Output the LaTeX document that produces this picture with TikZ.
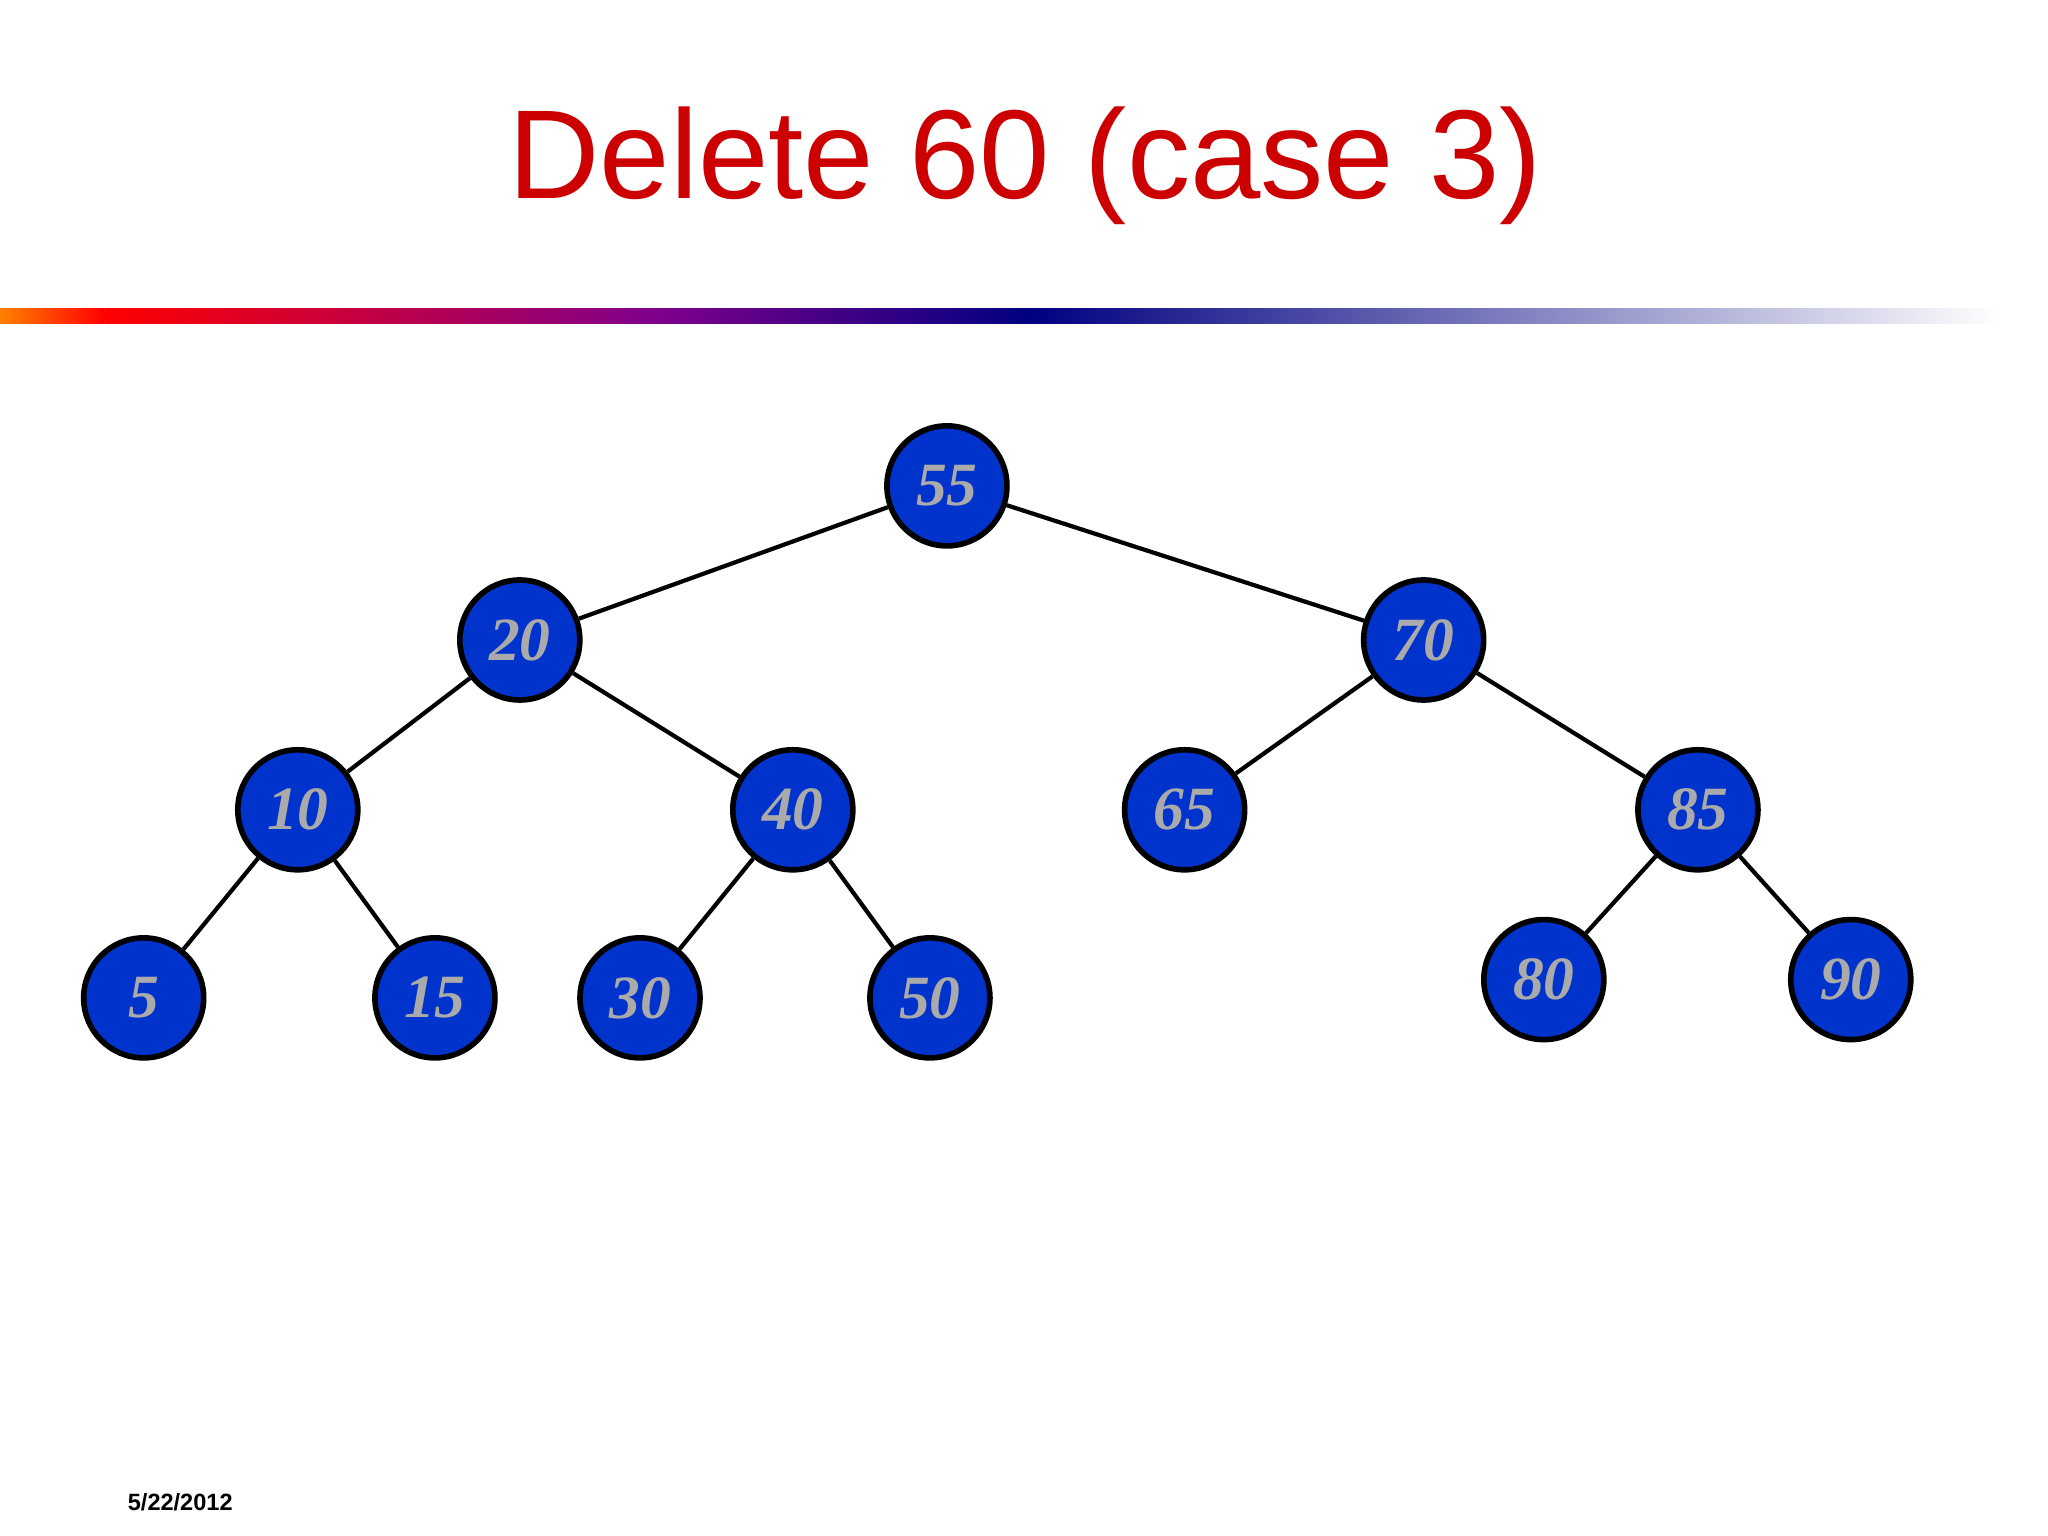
\documentclass[tikz,border=0pt]{standalone}
\usepackage{fontspec}
\setmainfont{Liberation Serif}
\newfontfamily\sansf{Liberation Sans}
\begin{document}
\begin{tikzpicture}[x=0.01306cm,y=-0.01306cm,
  bst/.style={circle,draw=black,line width=1.6pt,fill={rgb,255:red,0;green,51;blue,204},minimum size=1.2cm,inner sep=0pt,
    text={rgb,255:red,170;green,170;blue,170},font=\fontsize{17.5}{20}\selectfont\bfseries\itshape},
  edge/.style={line width=1.2pt,draw=black}]
\useasboundingbox (0,0) rectangle (1568,1176);
\definecolor{tred}{RGB}{204,0,0}
\node[text=tred,font=\sansf\fontsize{36}{40}\selectfont] (title) at (785,127) {Delete 60 (case 3)};
\shade[left color=orange,right color=red] (0,236) rectangle (80,248);
\shade[left color=red,right color={rgb,255:red,128;green,0;blue,140}] (80,236) rectangle (500,248);
\shade[left color={rgb,255:red,128;green,0;blue,140},right color={rgb,255:red,0;green,0;blue,128}] (500,236) rectangle (790,248);
\shade[left color={rgb,255:red,0;green,0;blue,128},right color=white] (790,236) rectangle (1530,248);
\node[font=\sansf\bfseries\fontsize{6.7}{8}\selectfont] (date) at (138,1150) {5/22/2012};
\node[bst] (n55) at (725,372) {55};
\node[bst] (n20) at (398,490) {20};
\node[bst] (n70) at (1090,490) {70};
\node[bst] (n10) at (228,620) {10};
\node[bst] (n40) at (607,620) {40};
\node[bst] (n65) at (907,620) {65};
\node[bst] (n85) at (1300,620) {85};
\node[bst] (n5) at (110,764) {5};
\node[bst] (n15) at (333,764) {15};
\node[bst] (n30) at (490,764) {30};
\node[bst] (n50) at (712,764) {50};
\node[bst] (n80) at (1182,750) {80};
\node[bst] (n90) at (1417,750) {90};
\foreach \a/\b in {n55/n20,n55/n70,n20/n10,n20/n40,n70/n65,n70/n85,n10/n5,n10/n15,n40/n30,n40/n50,n85/n80,n85/n90}
  \draw[edge] (\a) -- (\b);
\end{tikzpicture}
\end{document}
